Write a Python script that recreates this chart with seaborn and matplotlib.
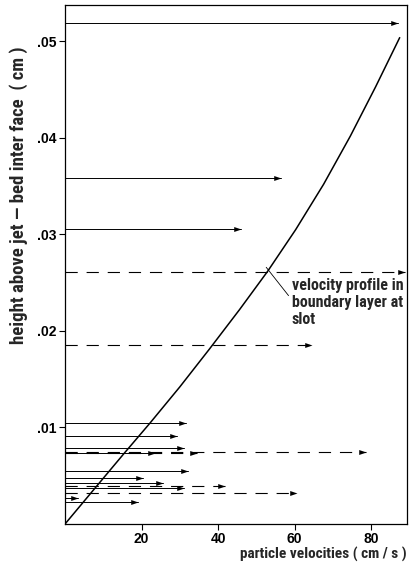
import numpy as np
import pandas as pd
import matplotlib
matplotlib.use("Agg")
import matplotlib.pyplot as plt
import seaborn as sns

# Velocity profile in boundary layer (curve)
profile_velocity = [0, 11.5, 15.5, 22.2, 30.0, 37.7, 45.6, 53.0, 60.3, 67.6, 74.6, 81.2, 87.5]
profile_height = [0, 0.00545, 0.00734, 0.01045, 0.0142, 0.0181, 0.0222, 0.0262, 0.0305, 0.0352, 0.0402, 0.0453, 0.0504]

# Particle velocity arrows
arrow_height = [0.0519, 0.0359, 0.0306, 0.0261, 0.0185, 0.01045, 0.00913, 0.0079,
                0.00735, 0.00735, 0.00745, 0.00545, 0.00475, 0.0042, 0.0039, 0.0037,
                0.0032, 0.0027, 0.0023]
arrow_velocity = [87.0, 56.5, 46.0, 89.0, 64.5, 31.5, 29.4, 31.2,
                  23.5, 34.5, 78.8, 32.1, 20.5, 25.5, 41.7, 31.0,
                  60.7, 3.5, 19.0]
arrow_style = ["solid", "solid", "solid", "dashed", "dashed", "solid", "solid", "solid",
               "solid", "dashed", "dashed", "solid", "solid", "solid", "dashed", "solid",
               "dashed", "solid", "solid"]

x_ticks = [20, 40, 60, 80]
y_ticks = [0.01, 0.02, 0.03, 0.04, 0.05]
y_ticklabels = [".01", ".02", ".03", ".04", ".05"]

sns.set_style("ticks")
COND = ['Roboto Condensed', 'Archivo Narrow', 'Encode Sans Condensed',
        'Encode Sans Semi Condensed', 'Liberation Sans', 'DejaVu Sans']
TICKF = ['Liberation Sans', 'DejaVu Sans']
plt.rcParams['font.family'] = COND

fig = plt.figure(figsize=(4.09, 5.68), dpi=100)
ax = fig.add_axes([0.159, 0.0775, 0.836, 0.914])

df_prof = pd.DataFrame({"v": profile_velocity, "h": profile_height})
sns.lineplot(data=df_prof, x="v", y="h", ax=ax, color="black", lw=1.1, sort=False, estimator=None)

df_arr = pd.DataFrame({"h": arrow_height, "v": arrow_velocity, "style": arrow_style})
for _, r in df_arr.iterrows():
    if r["style"] == "dashed":
        ax.plot([0, r["v"]], [r["h"], r["h"]], color="black", lw=0.8, ls=(0, (11, 8)))
    else:
        ax.plot([0, r["v"]], [r["h"], r["h"]], color="black", lw=0.7)

head = [(0, 0), (-1, 0.34), (-1, -0.34), (0, 0)]
sns.scatterplot(data=df_arr, x="v", y="h", ax=ax, marker=head, s=110, color="black",
                edgecolor="black", linewidth=0, zorder=5, legend=False)

ax.set_xlim(0, 89.4)
ax.set_ylim(0, 0.0538)
ax.set_xticks(x_ticks)
ax.set_xticklabels([str(t) for t in x_ticks], fontsize=10, fontweight="bold", family=TICKF)
ax.set_yticks(y_ticks)
ax.set_yticklabels(y_ticklabels, fontsize=10, fontweight="bold", family=TICKF)
ax.tick_params(axis="both", direction="out", length=4, width=0.8, pad=2, colors="black")

for s in ax.spines.values():
    s.set_linewidth(0.9)
    s.set_color("black")

ax.set_xlabel("")
ax.set_ylabel("")
fig.text(0.995, 0.023, "particle velocities ( cm / s )", ha="right", va="center",
         fontsize=11, fontweight="bold")
fig.text(0.046, 0.657, "height above jet \u2014 bed inter face  ( cm )", ha="center", va="center",
         rotation=90, fontsize=13.5, fontweight="bold")

ax.annotate("velocity profile in\nboundary layer at\nslot", xy=(52.6, 0.0266), xytext=(59.3, 0.0255),
            ha="left", va="top", fontsize=11.5, fontweight="heavy", linespacing=1.15,
            arrowprops=dict(arrowstyle="-", lw=0.6, color="black", shrinkA=0, shrinkB=0,
                            relpos=(0, 0.55)))

fig.savefig("out.png", dpi=100)
